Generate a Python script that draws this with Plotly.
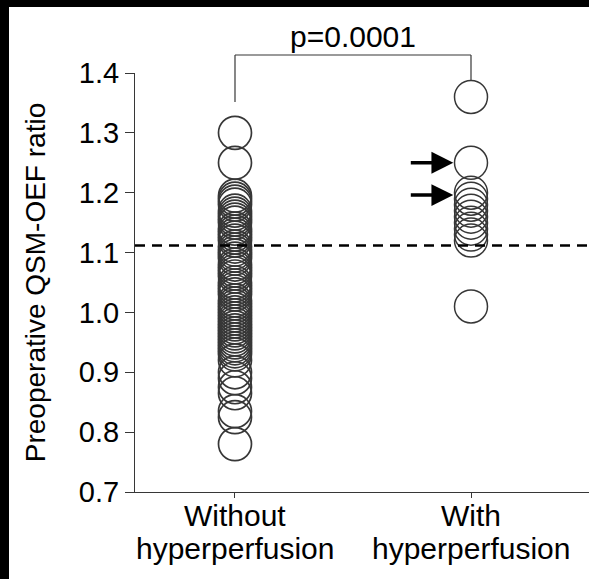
import plotly.graph_objects as go

# ---- data ----
cat_line1 = ["Without", "With"]
cat_line2 = ["hyperperfusion", "hyperperfusion"]
cat_pos = [0, 1]
without_vals = [1.30, 1.25, 1.195, 1.19, 1.185, 1.18, 1.17, 1.165, 1.16, 1.155, 1.15, 1.14,
                1.135, 1.13, 1.125, 1.12, 1.11, 1.105, 1.10, 1.095, 1.09, 1.08, 1.075,
                1.07, 1.065, 1.06, 1.05, 1.045, 1.04, 1.035, 1.03, 1.02, 1.015, 1.01,
                1.005, 1.00, 0.995, 0.99, 0.985, 0.98, 0.975, 0.97, 0.965, 0.96, 0.955,
                0.95, 0.945, 0.94, 0.935, 0.93, 0.92, 0.90, 0.89, 0.875, 0.865,
                0.835, 0.825, 0.78]
with_vals = [1.36, 1.25, 1.20, 1.19, 1.18, 1.17, 1.16, 1.15, 1.14, 1.13, 1.12, 1.01]
arrow_vals = [1.25, 1.196]
threshold = 1.112
y_ticks = [0.7, 0.8, 0.9, 1.0, 1.1, 1.2, 1.3, 1.4]
y_ticktext = ["0.7", "0.8", "0.9", "1.0", "1.1", "1.2", "1.3", "1.4"]
p_text = "p=0.0001"
y_title = "Preoperative QSM-OEF ratio"

# ---- layout geometry ----
W, H = 589, 579
ML, MR, MT, MB = 135, 0, 73, 87
XR = [-0.4237, 1.5]
YR = [0.7, 1.4]
PW, PH = W - ML - MR, H - MT - MB

def px_x(px):
    return (px - ML) / PW

def px_y(py):
    return 1 - (py - MT) / PH

def data_to_paper_x(v):
    return (v - XR[0]) / (XR[1] - XR[0])

FONT = "Liberation Sans, Arial, sans-serif"
line_col = "rgb(55,55,55)"

fig = go.Figure()
fig.add_trace(go.Scatter(
    x=[cat_pos[0]] * len(without_vals), y=without_vals, mode="markers",
    marker=dict(symbol="circle-open", size=33, color=line_col, line=dict(width=1.7)),
    showlegend=False, hoverinfo="y"))
fig.add_trace(go.Scatter(
    x=[cat_pos[1]] * len(with_vals), y=with_vals, mode="markers",
    marker=dict(symbol="circle-open", size=33, color=line_col, line=dict(width=1.5)),
    showlegend=False, hoverinfo="y"))

shapes = []
# dashed threshold
shapes.append(dict(type="line", xref="paper", yref="y", x0=0, x1=1, y0=threshold, y1=threshold,
                   line=dict(color="black", width=2.5, dash="10px,7px")))
# bracket
xl, xr = data_to_paper_x(cat_pos[0]), data_to_paper_x(cat_pos[1])
yt = px_y(55)
shapes.append(dict(type="line", xref="paper", yref="paper", x0=xl, x1=xr, y0=yt, y1=yt,
                   line=dict(color=line_col, width=1.2)))
shapes.append(dict(type="line", xref="paper", yref="paper", x0=xl, x1=xl, y0=yt, y1=px_y(102),
                   line=dict(color=line_col, width=1.2)))
shapes.append(dict(type="line", xref="paper", yref="paper", x0=xr, x1=xr, y0=yt, y1=px_y(80),
                   line=dict(color=line_col, width=1.2)))
# black frame on left and top
shapes.append(dict(type="rect", xref="paper", yref="paper", x0=px_x(0), x1=px_x(9),
                   y0=px_y(H), y1=px_y(0), fillcolor="black", line=dict(width=0)))
shapes.append(dict(type="rect", xref="paper", yref="paper", x0=px_x(0), x1=px_x(W),
                   y0=px_y(7), y1=px_y(0), fillcolor="black", line=dict(width=0)))

annotations = [dict(text=p_text, xref="paper", yref="paper", x=(xl + xr) / 2, y=px_y(36),
                    xanchor="center", yanchor="middle", showarrow=False,
                    font=dict(family=FONT, size=30, color="black"))]
for v in arrow_vals:
    annotations.append(dict(x=0.925, y=v, xref="x", yref="y", ax=-44, ay=0, text="",
                            showarrow=True, arrowhead=2, arrowsize=1.25, arrowwidth=3.5,
                            arrowcolor="black"))
# category labels (two lines each)
for pos, l1, l2 in zip(cat_pos, cat_line1, cat_line2):
    annotations.append(dict(text=l1, x=pos, xref="x", yref="paper", y=px_y(515),
                            xanchor="center", yanchor="middle", showarrow=False,
                            font=dict(family=FONT, size=30, color="black")))
    annotations.append(dict(text=l2, x=pos, xref="x", yref="paper", y=px_y(548),
                            xanchor="center", yanchor="middle", showarrow=False,
                            font=dict(family=FONT, size=30, color="black")))

fig.update_layout(
    width=W, height=H, margin=dict(l=ML, r=MR, t=MT, b=MB),
    paper_bgcolor="white", plot_bgcolor="white",
    font=dict(family=FONT, size=28, color="black"),
    shapes=shapes, annotations=annotations,
    xaxis=dict(range=XR, tickvals=cat_pos, showticklabels=False, ticks="outside",
               ticklen=5, tickcolor=line_col, showline=True, linecolor=line_col,
               linewidth=1.2, showgrid=False, zeroline=False),
    yaxis=dict(range=YR, tickvals=y_ticks, ticktext=y_ticktext, ticks="outside",
               ticklen=9, tickcolor=line_col, showline=True, linecolor=line_col,
               linewidth=1.2, showgrid=False, zeroline=False,
               tickfont=dict(family=FONT, size=29),
               title=dict(text=y_title, font=dict(family=FONT, size=28), standoff=24)),
)
fig.write_html("out.html", config={"displayModeBar": False},
               post_script="document.body.style.margin='0';document.body.style.overflow='hidden';")
